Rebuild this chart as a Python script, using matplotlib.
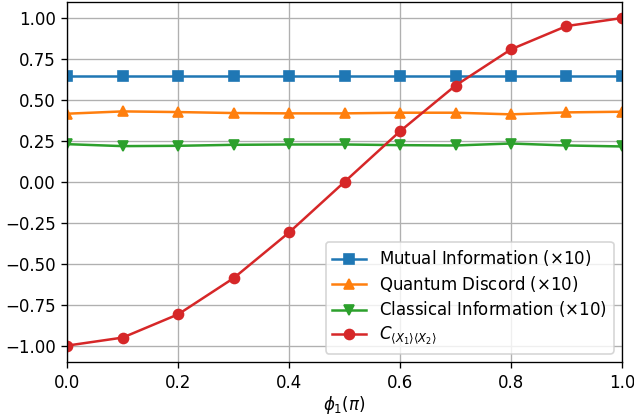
import numpy as np
import matplotlib
matplotlib.use("Agg")
import matplotlib.pyplot as plt

# phase values (in units of pi)
phi = [0.0, 0.1, 0.2, 0.3, 0.4, 0.5, 0.6, 0.7, 0.8, 0.9, 1.0]

# quantities scaled by 10
mutual_info = [0.645] * 11
quantum_discord = [0.416, 0.430, 0.426, 0.420, 0.418, 0.418, 0.422, 0.422, 0.412, 0.424, 0.428]
classical_info = [0.230, 0.218, 0.220, 0.226, 0.228, 0.228, 0.224, 0.222, 0.234, 0.222, 0.216]
correlation = [-1.0, -0.951, -0.809, -0.588, -0.309, 0.0, 0.309, 0.588, 0.809, 0.951, 1.0]

fig, ax = plt.subplots(figsize=(634 / 120, 418 / 120), dpi=120)
ax.plot(phi, mutual_info, marker="s", color="tab:blue", label="Mutual Information ($\\times$10)")
ax.plot(phi, quantum_discord, marker="^", color="tab:orange", label="Quantum Discord ($\\times$10)")
ax.plot(phi, classical_info, marker="v", color="tab:green", label="Classical Information ($\\times$10)")
ax.plot(phi, correlation, marker="o", color="tab:red", label=r"$C_{\langle X_1\rangle\langle X_2\rangle}$")

ax.set_xlabel(r"$\phi_1(\pi)$", labelpad=1.5)
ax.set_xlim(0, 1)
ax.grid(True)
ax.legend(loc="lower right", labelspacing=0.33)

fig.subplots_adjust(left=0.106, right=0.981, bottom=0.134, top=0.996)
fig.savefig("out.png", dpi=120)
